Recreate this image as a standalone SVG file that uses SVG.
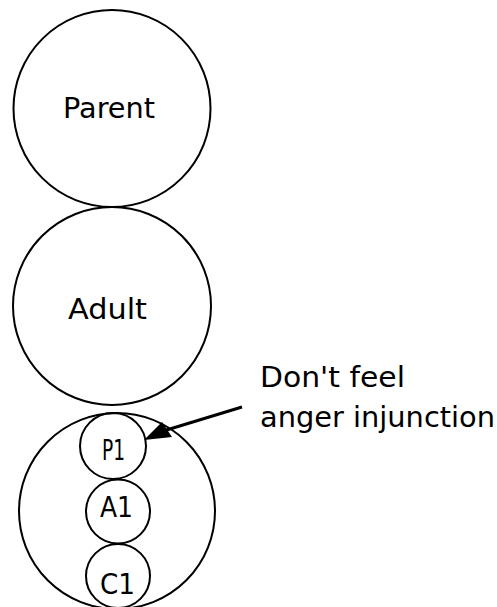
<svg xmlns="http://www.w3.org/2000/svg" width="497" height="607" viewBox="0 0 497 607">
<style>
.c{fill:none;stroke:#000;stroke-width:2}
.t{font-family:"DejaVu Sans",sans-serif;font-size:29px;fill:#000}
.s{font-family:"DejaVu Sans",sans-serif;font-size:28px;fill:#000}
</style>
<defs>
<marker id="ah" markerWidth="10" markerHeight="8" refX="9" refY="4" orient="auto" markerUnits="userSpaceOnUse" viewBox="0 0 10 8">
<path d="M0,0 L10,4 L0,8 Z" fill="#000"/>
</marker>
</defs>
<rect width="497" height="607" fill="#fff"/>
<g id="parent">
<circle class="c" cx="112" cy="108.5" r="98.5"/>
<text class="t" x="63" y="118" textLength="92" lengthAdjust="spacingAndGlyphs">Parent</text>
</g>
<g id="adult">
<circle class="c" cx="112" cy="306" r="99"/>
<text class="t" x="68" y="319" textLength="79" lengthAdjust="spacingAndGlyphs">Adult</text>
</g>
<g id="child">
<circle class="c" cx="117" cy="511" r="98"/>
</g>
<g id="p1">
<circle class="c" cx="113" cy="446" r="33"/>
<text class="s" x="102" y="460" textLength="23" lengthAdjust="spacingAndGlyphs">P1</text>
</g>
<g id="a1">
<circle class="c" cx="118" cy="511.5" r="32"/>
<text class="s" x="100" y="517" textLength="33" lengthAdjust="spacingAndGlyphs">A1</text>
</g>
<g id="c1">
<circle class="c" cx="118" cy="576" r="32"/>
<text class="s" x="100" y="594" textLength="35" lengthAdjust="spacingAndGlyphs">C1</text>
</g>
<g id="connectors">
<line x1="242" y1="407" x2="160" y2="432" stroke="#000" stroke-width="3"/>
<path d="M144,440 L162,422 L172,437 Z" fill="#000"/>
</g>
<g id="label">
<text class="s" x="260" y="387" textLength="145" lengthAdjust="spacingAndGlyphs">Don't feel</text>
<text class="s" x="260" y="427" textLength="235" lengthAdjust="spacingAndGlyphs">anger injunction</text>
</g>
</svg>
